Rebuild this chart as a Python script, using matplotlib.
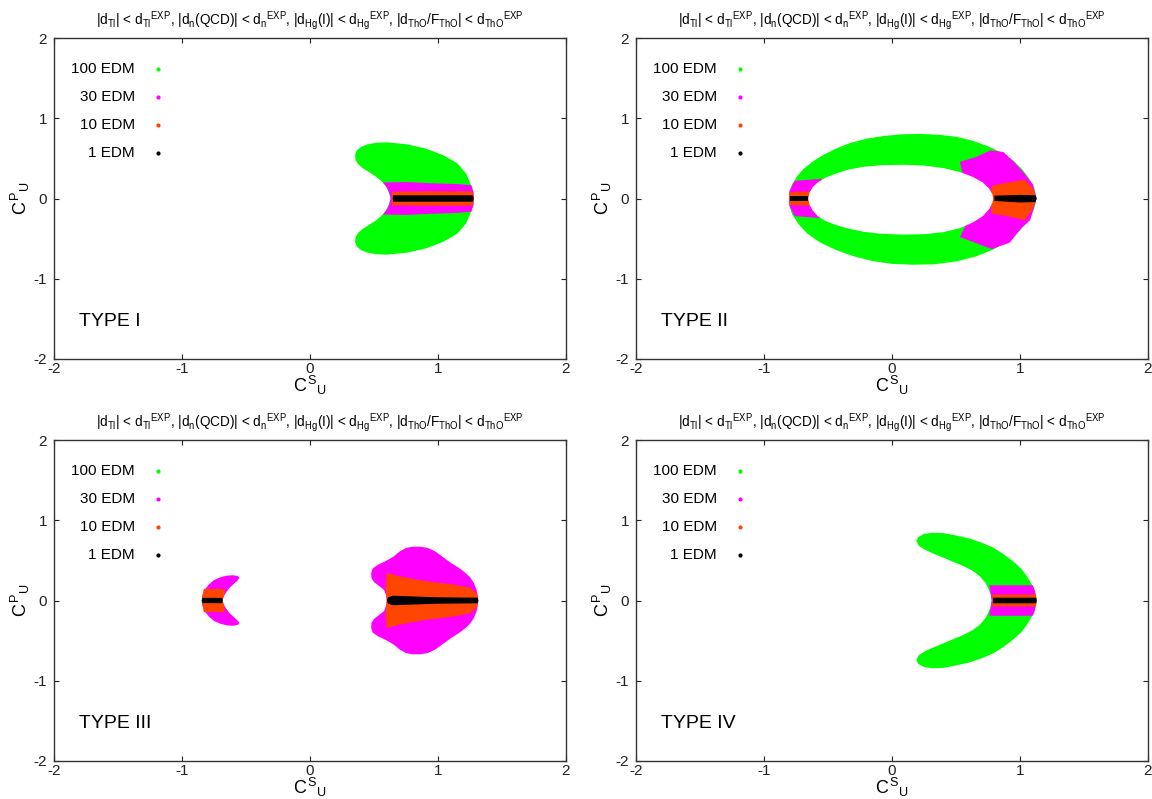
"""
Four-panel EDM constraint plot in the (C^S_U, C^P_U) plane, TYPE I - IV.
Regions are filled outlines read off the reference figure.
Output: out.png
"""

import matplotlib
matplotlib.use("Agg")
import matplotlib.pyplot as plt

plt.rcParams["font.family"] = ["Liberation Sans", "DejaVu Sans"]
plt.rcParams["mathtext.fontset"] = "custom"
plt.rcParams["mathtext.rm"] = "Liberation Sans"
plt.rcParams["mathtext.it"] = "Liberation Sans"
plt.rcParams["mathtext.bf"] = "Liberation Sans"
plt.rcParams["axes.unicode_minus"] = False

GREEN = "#00ff00"
MAGENTA = "#ff00ff"
ORANGE = "#ff4500"
BLACK = "#000000"

legend_labels = ["100 EDM", "30 EDM", "10 EDM", "1 EDM"]
legend_colors = [GREEN, MAGENTA, ORANGE, BLACK]
type_labels = ["TYPE I", "TYPE II", "TYPE III", "TYPE IV"]
ticks = [-2, -1, 0, 1, 2]
tick_labels = ["-2", "-1", "0", "1", "2"]

TITLE = (r"$|d_{Tl}|$ < $d_{Tl}{}^{EXP}$, $|d_n$(QCD)$|$ < $d_n{}^{EXP}$, "
         r"$|d_{Hg}$(I)$|$ < $d_{Hg}{}^{EXP}$, $|d_{ThO}/F_{ThO}|$ < $d_{ThO}{}^{EXP}$")

# ---- TYPE I (upper halves, mirrored about C^P_U = 0) ----
t1_green_x = [1.28, 1.275, 1.26, 1.22, 1.15, 1.04, 0.91, 0.76, 0.60, 0.52, 0.45, 0.40, 0.365, 0.352,
              0.356, 0.375, 0.41, 0.46, 0.51, 0.555, 0.59, 0.615, 0.63]
t1_green_y = [0.0, 0.08, 0.16, 0.31, 0.44, 0.54, 0.62, 0.675, 0.70, 0.695, 0.675, 0.645, 0.60, 0.54,
              0.48, 0.43, 0.38, 0.33, 0.28, 0.22, 0.16, 0.08, 0.0]
t1_mag_x = [0.63, 0.62, 0.60, 0.57, 0.75, 0.95, 1.15, 1.26, 1.278, 1.281]
t1_mag_y = [0.0, 0.07, 0.14, 0.20, 0.205, 0.19, 0.18, 0.165, 0.08, 0.0]
t1_org_x = [0.64, 0.64, 0.90, 1.27, 1.28]
t1_org_y = [0.0, 0.085, 0.09, 0.09, 0.0]
t1_blk_x = [0.645, 0.65, 1.27, 1.28]
t1_blk_y = [0.0, 0.04, 0.04, 0.0]

# ---- TYPE II (full outlines) ----
t2_outer_x = [-0.805, -0.80, -0.78, -0.74, -0.69, -0.62, -0.54, -0.44, -0.33, -0.20, -0.06, 0.08, 0.22, 0.36,
              0.50, 0.63, 0.75, 0.86, 0.95, 1.02, 1.07, 1.11, 1.13,
              1.11, 1.07, 1.0, 0.91, 0.80, 0.66, 0.50, 0.33, 0.16, 0.0, -0.15, -0.30, -0.44, -0.56,
              -0.66, -0.73, -0.78, -0.80]
t2_outer_y = [0.0, 0.08, 0.18, 0.28, 0.37, 0.46, 0.54, 0.62, 0.69, 0.745, 0.78, 0.80, 0.805, 0.795,
              0.77, 0.72, 0.65, 0.57, 0.47, 0.36, 0.25, 0.13, 0.0,
              -0.13, -0.26, -0.40, -0.52, -0.63, -0.72, -0.785, -0.82, -0.825, -0.815, -0.78, -0.72, -0.64, -0.55,
              -0.44, -0.32, -0.20, -0.09]
t2_inner_x = [-0.654, -0.645, -0.62, -0.58, -0.52, -0.44, -0.34, -0.22, -0.08, 0.09, 0.25, 0.40, 0.53, 0.63,
              0.71, 0.76, 0.785, 0.79,
              0.785, 0.76, 0.71, 0.63, 0.53, 0.40, 0.25, 0.09, -0.08, -0.22, -0.34, -0.44, -0.52, -0.58,
              -0.62, -0.645]
t2_inner_y = [0.0, 0.07, 0.14, 0.20, 0.26, 0.31, 0.36, 0.395, 0.415, 0.42, 0.41, 0.38, 0.33, 0.27,
              0.20, 0.12, 0.05, 0.0,
              -0.05, -0.13, -0.22, -0.30, -0.37, -0.42, -0.445, -0.45, -0.44, -0.415, -0.375, -0.33, -0.28, -0.22,
              -0.15, -0.075]
t2_mag_r_x = [0.53, 0.66, 0.77, 0.87, 0.95, 1.03, 1.10, 1.13, 1.08, 1.01, 0.92, 0.78, 0.53, 0.58, 0.60]
t2_mag_r_y = [0.455, 0.52, 0.60, 0.58, 0.46, 0.32, 0.18, 0.0, -0.27, -0.37, -0.55, -0.63, -0.48, -0.32, 0.0]
t2_org_r_x = [0.78, 0.87, 1.04, 1.10, 1.13, 1.10, 1.04, 0.87, 0.78, 0.766]
t2_org_r_y = [0.16, 0.19, 0.235, 0.12, 0.0, -0.12, -0.27, -0.21, -0.19, 0.0]
t2_blk_r_x = [0.80, 1.0, 1.12, 1.13, 1.12, 1.0, 0.80]
t2_blk_r_y = [0.035, 0.045, 0.04, 0.0, -0.045, -0.05, -0.03]
t2_mag_l_x = [-0.805, -0.80, -0.76, -0.55, -0.55, -0.76, -0.80]
t2_mag_l_y = [0.0, 0.10, 0.22, 0.245, -0.245, -0.22, -0.10]
t2_org_l_x = [-0.805, -0.80, -0.64, -0.64, -0.80]
t2_org_l_y = [0.0, 0.08, 0.09, -0.09, -0.08]
t2_blk_l_x = [-0.80, -0.66, -0.66, -0.80]
t2_blk_l_y = [0.035, 0.035, -0.035, -0.035]

# ---- TYPE III (upper halves) ----
t3_mag_s_x = [-0.846, -0.84, -0.82, -0.79, -0.75, -0.70, -0.65, -0.60, -0.565, -0.55, -0.565, -0.60,
              -0.63, -0.655, -0.675, -0.682]
t3_mag_s_y = [0.0, 0.07, 0.14, 0.20, 0.255, 0.29, 0.31, 0.315, 0.305, 0.28, 0.25, 0.20,
              0.155, 0.10, 0.05, 0.0]
t3_org_s_x = [-0.845, -0.83, -0.665, -0.67, -0.682]
t3_org_s_y = [0.0, 0.145, 0.145, 0.08, 0.0]
t3_blk_s_x = [-0.846, -0.84, -0.685, -0.682]
t3_blk_s_y = [0.0, 0.033, 0.033, 0.0]
t3_mag_b_x = [1.315, 1.31, 1.30, 1.28, 1.25, 1.21, 1.16, 1.10, 1.04, 0.98, 0.92, 0.86, 0.80, 0.75, 0.70,
              0.65, 0.59, 0.53, 0.49, 0.478, 0.48, 0.50, 0.54, 0.58, 0.595, 0.60]
t3_mag_b_y = [0.0, 0.07, 0.14, 0.22, 0.29, 0.35, 0.41, 0.47, 0.54, 0.61, 0.655, 0.67, 0.67, 0.655, 0.61,
              0.545, 0.49, 0.445, 0.40, 0.34, 0.28, 0.23, 0.18, 0.13, 0.06, 0.0]
t3_org_b_x = [1.315, 1.30, 1.25, 1.12, 0.91, 0.70, 0.60, 0.59, 0.60]
t3_org_b_y = [0.0, 0.09, 0.16, 0.20, 0.24, 0.30, 0.345, 0.18, 0.0]
t3_blk_b_x = [0.60, 0.61, 0.65, 0.81, 1.0, 1.31, 1.315]
t3_blk_b_y = [0.0, 0.04, 0.06, 0.05, 0.04, 0.035, 0.0]

# ---- TYPE IV (upper halves) ----
t4_green_x = [1.13, 1.125, 1.117, 1.10, 1.078, 1.05, 1.013, 0.97, 0.92, 0.86, 0.79, 0.70, 0.61, 0.50, 0.40,
              0.32, 0.25, 0.205, 0.19, 0.21, 0.26, 0.33, 0.40, 0.48, 0.557, 0.63, 0.6875, 0.73, 0.755,
              0.772, 0.779]
t4_green_y = [0.0, 0.06, 0.116, 0.18, 0.24, 0.31, 0.39, 0.455, 0.52, 0.59, 0.66, 0.72, 0.77, 0.81, 0.84,
              0.845, 0.83, 0.79, 0.74, 0.68, 0.63, 0.58, 0.535, 0.48, 0.43, 0.37, 0.30, 0.22, 0.14,
              0.07, 0.0]
t4_mag_x = [0.779, 0.77, 0.76, 1.10, 1.117, 1.13]
t4_mag_y = [0.0, 0.10, 0.19, 0.19, 0.116, 0.0]
t4_org_x = [0.785, 0.785, 1.125, 1.13]
t4_org_y = [0.0, 0.075, 0.075, 0.0]
t4_blk_x = [0.79, 0.79, 1.125, 1.13]
t4_blk_y = [0.0, 0.035, 0.035, 0.0]


def mirrored(xs, ys):
    """Close an upper-half outline with its reflection below C^P_U = 0."""
    return list(xs) + list(xs[::-1]), list(ys) + [-v for v in ys[::-1]]


def setup_axes(ax, label):
    ax.set_xlim(-2, 2)
    ax.set_ylim(-2, 2)
    ax.set_xticks(ticks)
    ax.set_xticklabels(tick_labels)
    ax.set_yticks(ticks)
    ax.set_yticklabels(tick_labels)
    ax.tick_params(direction="in", length=3.5, width=0.8, top=True, right=True,
                   labelsize=11, colors="#222222")
    ax.tick_params(axis="x", pad=2.5)
    ax.tick_params(axis="y", pad=5)
    for s in ax.spines.values():
        s.set_linewidth(1.0)
        s.set_color("#333333")
    ax.set_title(TITLE, fontsize=9.8, pad=10)
    ax.set_xlabel(r"$C^{S}{}_{U}$", fontsize=13)
    ax.set_ylabel(r"$C^{P}{}_{U}$", fontsize=13)
    ax.xaxis.set_label_coords(0.5, -0.045)
    ax.yaxis.set_label_coords(-0.042, 0.5)
    for i, (lab, col) in enumerate(zip(legend_labels, legend_colors)):
        yy = 0.903 - i * 0.0872
        ax.text(0.158, yy, lab, transform=ax.transAxes, ha="right", va="center", fontsize=11)
        ax.plot([0.203], [yy], "o", color=col, markersize=3, transform=ax.transAxes,
                markeredgewidth=0)
    ax.text(0.049, 0.118, label, transform=ax.transAxes, ha="left", va="center", fontsize=14)


fig = plt.figure(figsize=(11.52, 7.99), dpi=100)
W, H = 1152.0, 799.0
boxes = [(54, 38), (636, 38), (54, 440), (636, 440)]
axes = []
for (x0, y0) in boxes:
    ax = fig.add_axes([x0 / W, 1 - (y0 + 321) / H, 512 / W, 321 / H])
    axes.append(ax)

kw = dict(linewidth=0, antialiased=True)

# TYPE I
ax = axes[0]
ax.fill(*mirrored(t1_green_x, t1_green_y), color=GREEN, **kw)
ax.fill(*mirrored(t1_mag_x, t1_mag_y), color=MAGENTA, **kw)
ax.fill(*mirrored(t1_org_x, t1_org_y), color=ORANGE, **kw)
ax.fill(*mirrored(t1_blk_x, t1_blk_y), color=BLACK, **kw)

# TYPE II: ring, inner hole painted white before the black core
ax = axes[1]
ax.fill(t2_outer_x, t2_outer_y, color=GREEN, **kw)
ax.fill(t2_mag_r_x, t2_mag_r_y, color=MAGENTA, **kw)
ax.fill(t2_mag_l_x, t2_mag_l_y, color=MAGENTA, **kw)
ax.fill(t2_org_r_x, t2_org_r_y, color=ORANGE, **kw)
ax.fill(t2_org_l_x, t2_org_l_y, color=ORANGE, **kw)
ax.fill(t2_inner_x, t2_inner_y, color="white", **kw)
ax.fill(t2_blk_r_x, t2_blk_r_y, color=BLACK, **kw)
ax.fill(t2_blk_l_x, t2_blk_l_y, color=BLACK, **kw)

# TYPE III
ax = axes[2]
ax.fill(*mirrored(t3_mag_s_x, t3_mag_s_y), color=MAGENTA, **kw)
ax.fill(*mirrored(t3_org_s_x, t3_org_s_y), color=ORANGE, **kw)
ax.fill(*mirrored(t3_blk_s_x, t3_blk_s_y), color=BLACK, **kw)
ax.fill(*mirrored(t3_mag_b_x, t3_mag_b_y), color=MAGENTA, **kw)
ax.fill(*mirrored(t3_org_b_x, t3_org_b_y), color=ORANGE, **kw)
ax.fill(*mirrored(t3_blk_b_x, t3_blk_b_y), color=BLACK, **kw)

# TYPE IV
ax = axes[3]
ax.fill(*mirrored(t4_green_x, t4_green_y), color=GREEN, **kw)
ax.fill(*mirrored(t4_mag_x, t4_mag_y), color=MAGENTA, **kw)
ax.fill(*mirrored(t4_org_x, t4_org_y), color=ORANGE, **kw)
ax.fill(*mirrored(t4_blk_x, t4_blk_y), color=BLACK, **kw)

for ax, lab in zip(axes, type_labels):
    setup_axes(ax, lab)

fig.savefig("out.png", dpi=100)
